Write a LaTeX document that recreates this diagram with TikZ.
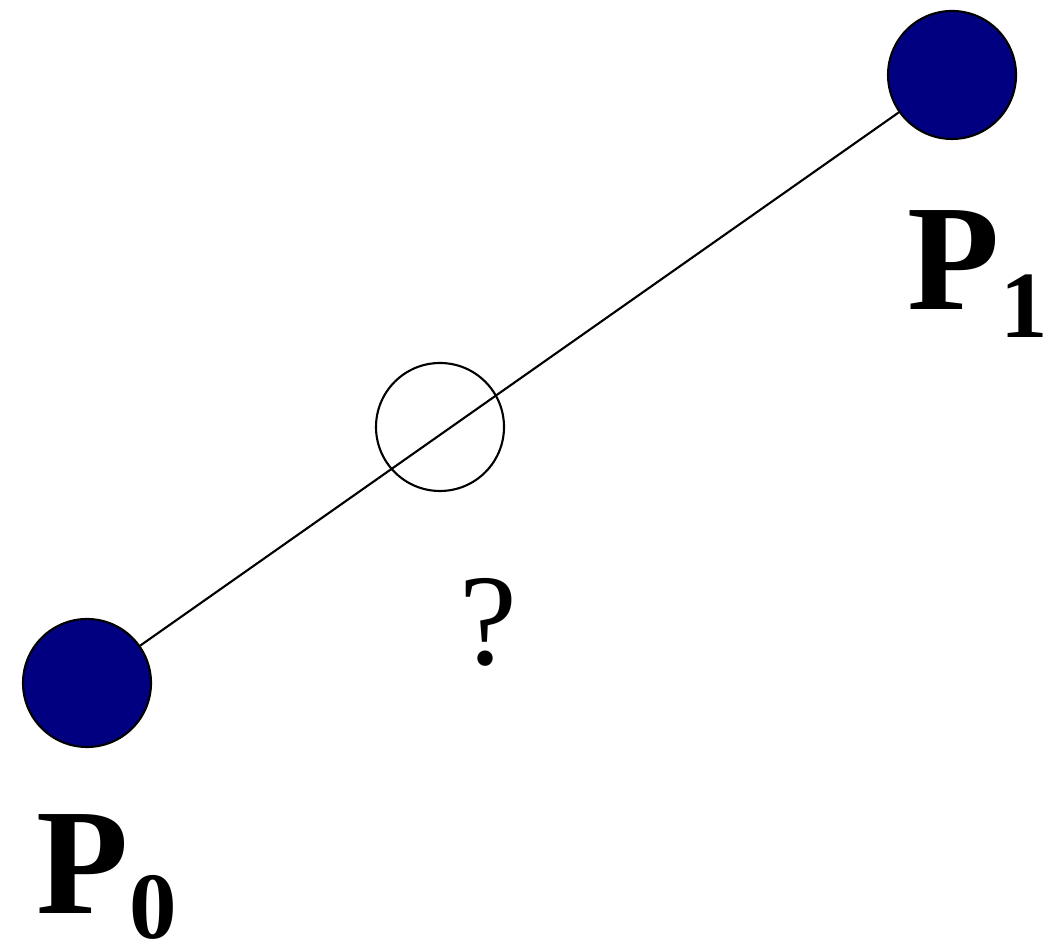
\documentclass[tikz,border=0pt]{standalone}
\usepackage{fontspec}
\setmainfont{Liberation Serif}
\usepackage{xcolor}
\usetikzlibrary{positioning}

\definecolor{ptblue}{RGB}{0,0,128}

\begin{document}
\begin{tikzpicture}[
    point/.style={circle, draw, line width=0.6pt, fill=ptblue, minimum size=1.28cm, inner sep=0pt},
    guess/.style={circle, draw, line width=0.6pt, minimum size=1.28cm, inner sep=0pt},
    plabel/.style={inner sep=0pt, font=\fontsize{43}{43}\selectfont\bfseries}
]
\useasboundingbox (0,0) rectangle (10.46,9.42);
\node[point] (p0) at (0.87,2.59) {};
\node[point] (p1) at (9.52,8.67) {};
\node[guess] (mid) at (4.40,5.15) {};
\draw[line width=0.6pt] (p0) -- (p1);
\node[plabel, anchor=base west] (p0label) at (0.36,0.29)
    {P\raisebox{-0.25cm}{\fontsize{27}{27}\selectfont 0}};
\node[plabel, anchor=base west] (p1label) at (9.07,6.32)
    {P\raisebox{-0.28cm}{\fontsize{27}{27}\selectfont 1}};
\node[inner sep=0pt, anchor=base, font=\fontsize{37}{37}\selectfont] (query) at (4.88,2.77) {?};
\end{tikzpicture}
\end{document}
